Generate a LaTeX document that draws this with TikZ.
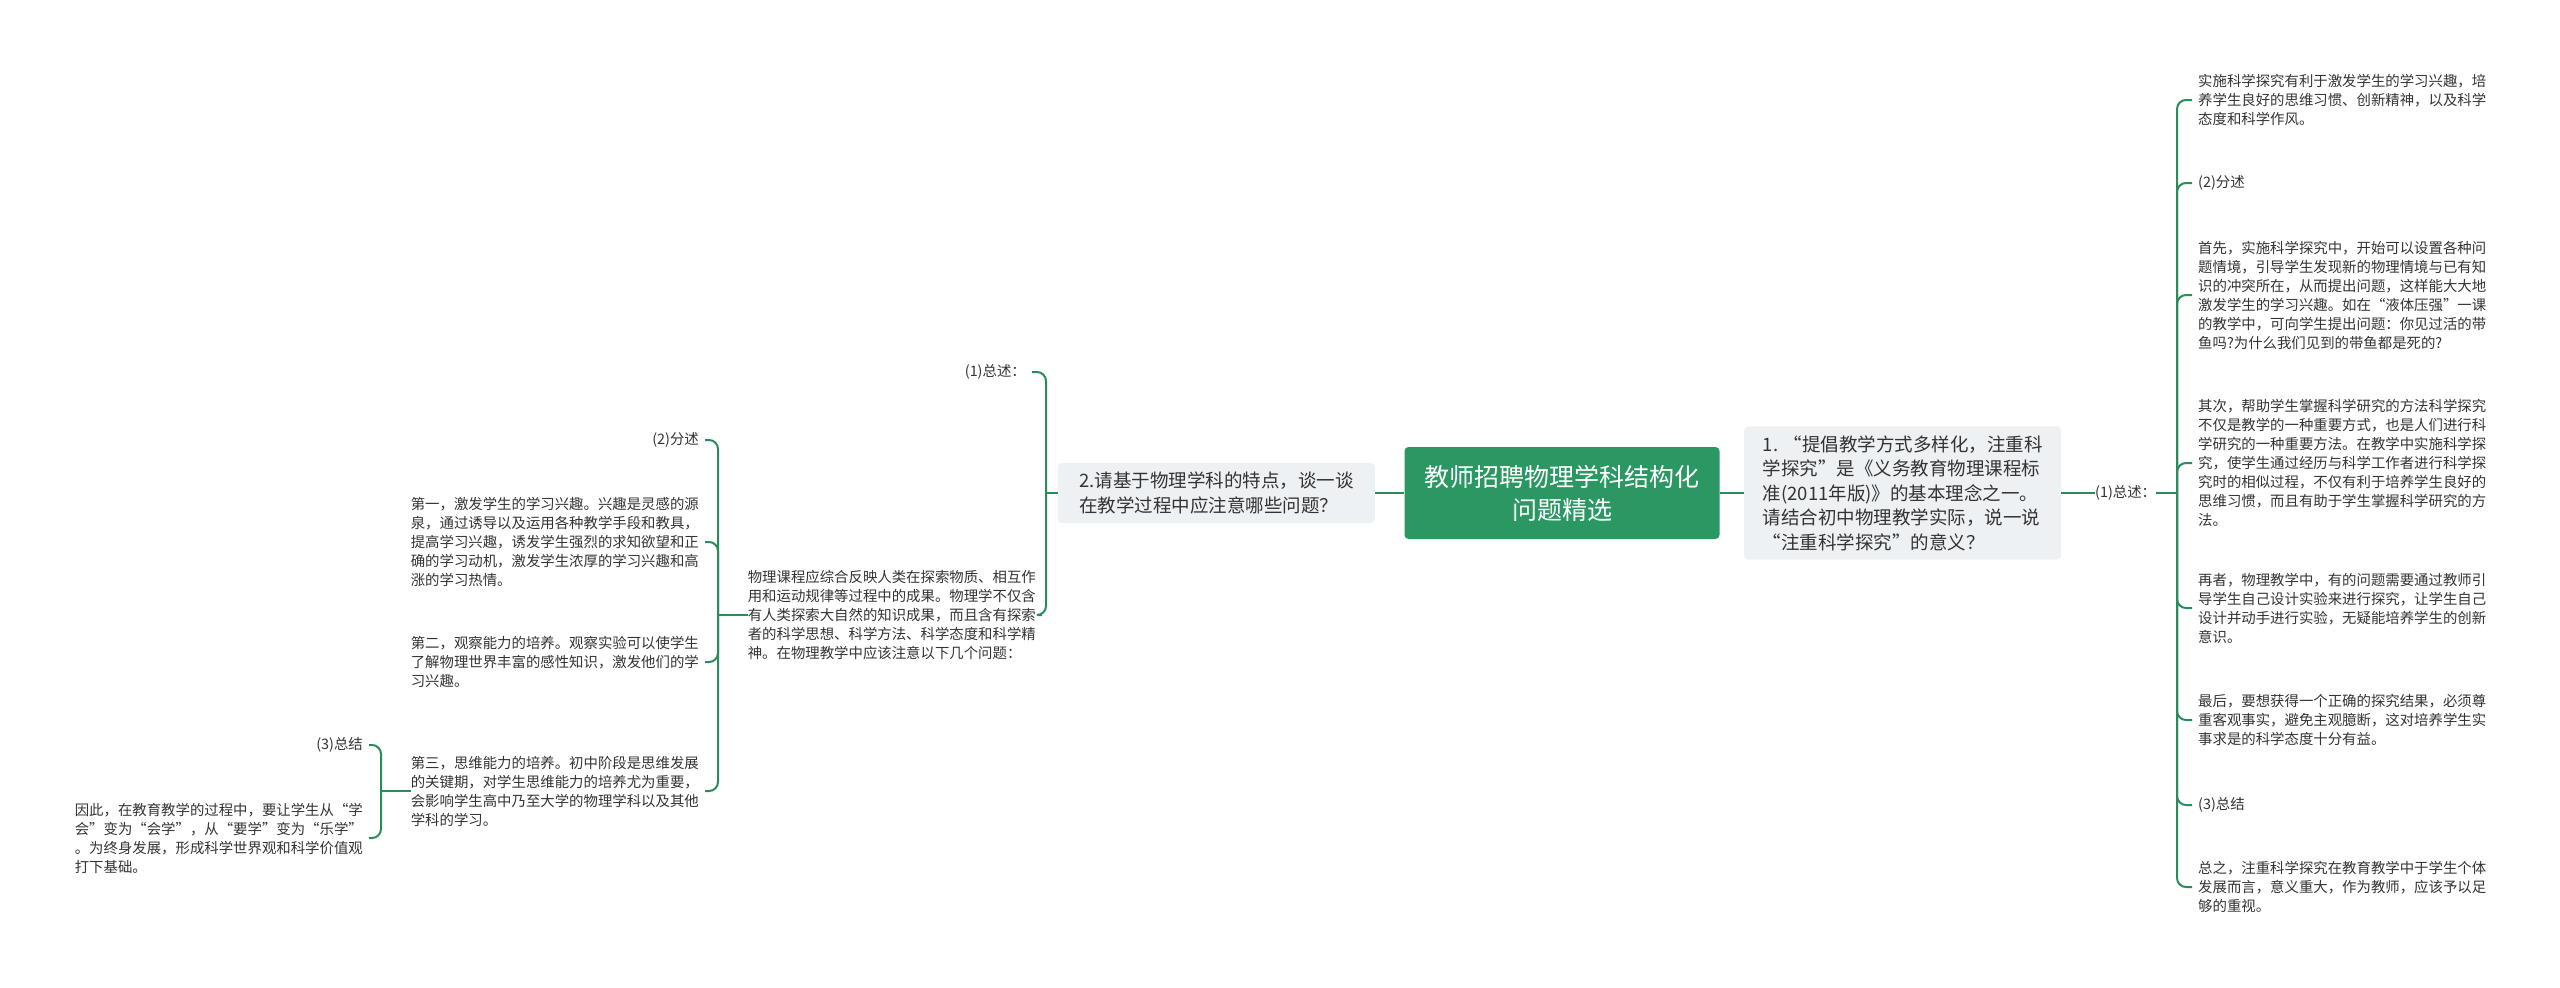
\documentclass[tikz,border=0pt]{standalone}
\usepackage{fontspec}
\setmainfont{Noto Sans CJK SC}
\definecolor{linegreen}{HTML}{2A8C5C}
\definecolor{rootgreen}{HTML}{2B9763}
\definecolor{boxgray}{HTML}{EEF1F4}
\definecolor{txtgray}{HTML}{333333}
\tikzset{
  root/.style={fill=rootgreen, text=white, rounded corners=4pt, minimum width=315pt, minimum height=92pt, align=center, font=\fontsize{25}{33}\selectfont},
  quest/.style={fill=boxgray, text=txtgray, rounded corners=4pt, align=left, inner sep=9pt, font=\fontsize{18.5}{24.5}\selectfont},
  leaf/.style={text=txtgray, align=left, inner sep=0pt, font=\fontsize{14.4}{19}\selectfont},
  link/.style={draw=linegreen, line width=2pt, rounded corners=9pt}
}
\begin{document}
\begin{tikzpicture}[x=1pt, y=-1pt]
		\useasboundingbox (0,0) rectangle (2560,988);
		% Mitte
		\node[root] (root) at (1562,493) {教师招聘物理学科结构化\\问题精选};
		% Rechte Seite
		\node[quest, anchor=west, minimum width=317pt] (q1) at (1744,493) {1. “提倡教学方式多样化，注重科\\学探究”是《义务教育物理课程标\\准(2011年版)》的基本理念之一。\\请结合初中物理教学实际，说一说\\“注重科学探究”的意义？};
		\node[leaf, anchor=west] (rsum) at (2095,493) {(1)总述：};
		\node[leaf, anchor=west] (r1) at (2198,100) {实施科学探究有利于激发学生的学习兴趣，培\\养学生良好的思维习惯、创新精神，以及科学\\态度和科学作风。};
		\node[leaf, anchor=west] (r2) at (2198,183) {(2)分述};
		\node[leaf, anchor=west] (r3) at (2198,295) {首先，实施科学探究中，开始可以设置各种问\\题情境，引导学生发现新的物理情境与已有知\\识的冲突所在，从而提出问题，这样能大大地\\激发学生的学习兴趣。如在“液体压强”一课\\的教学中，可向学生提出问题：你见过活的带\\鱼吗?为什么我们见到的带鱼都是死的?};
		\node[leaf, anchor=west] (r4) at (2198,463) {其次，帮助学生掌握科学研究的方法科学探究\\不仅是教学的一种重要方式，也是人们进行科\\学研究的一种重要方法。在教学中实施科学探\\究，使学生通过经历与科学工作者进行科学探\\究时的相似过程，不仅有利于培养学生良好的\\思维习惯，而且有助于学生掌握科学研究的方\\法。};
		\node[leaf, anchor=west] (r5) at (2198,608) {再者，物理教学中，有的问题需要通过教师引\\导学生自己设计实验来进行探究，让学生自己\\设计并动手进行实验，无疑能培养学生的创新\\意识。};
		\node[leaf, anchor=west] (r6) at (2198,720) {最后，要想获得一个正确的探究结果，必须尊\\重客观事实，避免主观臆断，这对培养学生实\\事求是的科学态度十分有益。};
		\node[leaf, anchor=west] (r7) at (2198,805) {(3)总结};
		\node[leaf, anchor=west] (r8) at (2198,887) {总之，注重科学探究在教育教学中于学生个体\\发展而言，意义重大，作为教师，应该予以足\\够的重视。};
		% Linke Seite
		\node[quest, anchor=east, minimum width=317pt] (q2) at (1375,493) {2.请基于物理学科的特点，谈一谈\\在教学过程中应注意哪些问题？};
		\node[leaf, anchor=east] (lsum) at (1026,372) {(1)总述：};
		\node[leaf, anchor=east] (phys) at (1036,615) {物理课程应综合反映人类在探索物质、相互作\\用和运动规律等过程中的成果。物理学不仅含\\有人类探索大自然的知识成果，而且含有探索\\者的科学思想、科学方法、科学态度和科学精\\神。在物理教学中应该注意以下几个问题：};
		\node[leaf, anchor=east] (l2) at (699,440) {(2)分述};
		\node[leaf, anchor=east] (l3) at (699,542) {第一，激发学生的学习兴趣。兴趣是灵感的源\\泉，通过诱导以及运用各种教学手段和教具，\\提高学习兴趣，诱发学生强烈的求知欲望和正\\确的学习动机，激发学生浓厚的学习兴趣和高\\涨的学习热情。};
		\node[leaf, anchor=east] (l4) at (699,662) {第二，观察能力的培养。观察实验可以使学生\\了解物理世界丰富的感性知识，激发他们的学\\习兴趣。};
		\node[leaf, anchor=east] (l5) at (699,791) {第三，思维能力的培养。初中阶段是思维发展\\的关键期，对学生思维能力的培养尤为重要，\\会影响学生高中乃至大学的物理学科以及其他\\学科的学习。};
		\node[leaf, anchor=east] (l6) at (363,745) {(3)总结};
		\node[leaf, anchor=east] (l7) at (363,838) {因此，在教育教学的过程中，要让学生从“学\\会”变为“会学”，从“要学”变为“乐学”\\。为终身发展，形成科学世界观和科学价值观\\打下基础。};
		% Linien
		\draw[link] (root) -- (q1);
		\draw[link] (root) -- (q2);
		\draw[link] (q1) -- (rsum);
		\coordinate (rb) at (2177,493);
		\draw[link] (rsum.east) -- (rb);
		\foreach \n in {r1,r2,r3,r4,r5,r6,r7,r8}
			\draw[link] (rb) |- ([xshift=-6pt]\n.west);
		\coordinate (lb) at (1046,493);
		\draw[link] (q2) -- (lb);
		\foreach \n in {lsum,phys}
			\draw[link] (lb) |- ([xshift=6pt]\n.east);
		\coordinate (lb2) at (718,615);
		\draw[link] (phys) -- (lb2);
		\foreach \n in {l2,l3,l4,l5}
			\draw[link] (lb2) |- ([xshift=6pt]\n.east);
		\coordinate (lb3) at (381,791);
		\draw[link] (l5) -- (lb3);
		\foreach \n in {l6,l7}
			\draw[link] (lb3) |- ([xshift=6pt]\n.east);
	\end{tikzpicture}
\end{document}
